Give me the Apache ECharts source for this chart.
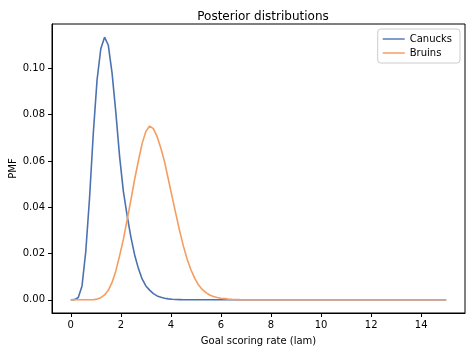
<!DOCTYPE html>
<html><head><meta charset="utf-8">
<script src="https://cdn.jsdelivr.net/npm/echarts@6/dist/echarts.min.js"></script>
<style>html,body{margin:0;padding:0;background:#fff}#c{width:472px;height:352px}</style>
</head><body><div id="c"></div>
<script>
const lam = [0,0.15,0.3,0.45,0.6,0.75,0.9,1.05,1.2,1.35,1.5,1.65,1.8,1.95,2.1,2.25,2.4,2.55,2.7,2.85,3,3.15,3.3,3.45,3.6,3.75,3.9,4.05,4.2,4.35,4.5,4.65,4.8,4.95,5.1,5.25,5.4,5.55,5.7,5.85,6,6.15,6.3,6.45,6.6,6.75,6.9,7.05,7.2,7.35,7.5,7.65,7.8,7.95,8.1,8.25,8.4,8.55,8.7,8.85,9,9.15,9.3,9.45,9.6,9.75,9.9,10.05,10.2,10.35,10.5,10.65,10.8,10.95,11.1,11.25,11.4,11.55,11.7,11.85,12,12.15,12.3,12.45,12.6,12.75,12.9,13.05,13.2,13.35,13.5,13.65,13.8,13.95,14.1,14.25,14.4,14.55,14.7,14.85,15];
const canucks = [0,0.0001,0.001,0.006,0.021,0.044,0.072,0.095,0.1085,0.1135,
  0.110,0.098,0.081,0.062,0.047,0.0365,0.0272,0.0195,0.0136,0.009,
  0.006,0.0042,0.0027,0.0017,0.0011,0.0007,0.0004,0.00025,0.00015,0.0001,
  0.00005,0,0,0,0,0,0,0,0,0,
  0,0,0,0,0,0,0,0,0,0,
  0,0,0,0,0,0,0,0,0,0,
  0,0,0,0,0,0,0,0,0,0,
  0,0,0,0,0,0,0,0,0,0,
  0,0,0,0,0,0,0,0,0,0,
  0,0,0,0,0,0,0,0,0,0,
  0];
const bruins = [0,0,0,0,0,0,0,0.0003,0.0009,0.0021,
  0.0041,0.0075,0.0125,0.019,0.026,0.0345,0.043,0.052,0.060,0.0675,
  0.0728,0.0751,0.074,0.0705,0.0655,0.0595,0.052,0.0445,0.037,0.0298,
  0.0232,0.0175,0.013,0.0094,0.0065,0.0045,0.0031,0.0021,0.0014,0.001,
  0.0007,0.0005,0.0003,0.0002,0.00013,0.00008,0.00005,0.00003,0.00002,0.00001,
  0,0,0,0,0,0,0,0,0,0,
  0,0,0,0,0,0,0,0,0,0,
  0,0,0,0,0,0,0,0,0,0,
  0,0,0,0,0,0,0,0,0,0,
  0,0,0,0,0,0,0,0,0,0,
  0];
const xTicks = [0,2,4,6,8,10,12,14];
const yTicks = [0,0.02,0.04,0.06,0.08,0.10];
const seriesNames = ['Canucks','Bruins'];

const font = 'DejaVu Sans';
const chart = echarts.init(document.getElementById('c'), null, {renderer:'canvas'});
chart.setOption({
  animation:false,
  backgroundColor:'#fff',
  title:{text:'Posterior distributions', left:258, top:6, textAlign:'center',
    textStyle:{fontFamily:font, fontSize:12, fontWeight:'normal', color:'#000'}},
  legend:{data:seriesNames, orient:'vertical', right:12, top:29, icon:'rect', itemWidth:22, itemHeight:2,
    itemGap:4, padding:[5,8,5,5], backgroundColor:'rgba(255,255,255,0.8)', borderColor:'#ccc', borderWidth:1, borderRadius:3,
    textStyle:{fontFamily:font, fontSize:10, color:'#000'}},
  grid:{left:52, right:7, top:24, bottom:39, show:true, borderColor:'#000', borderWidth:1, containLabel:false, outerBoundsMode:'none'},
  xAxis:{type:'value', min:-0.75, max:15.75,
    name:'Goal scoring rate (lam)', nameLocation:'middle', nameGap:23, nameMoveOverlap:false,
    nameTextStyle:{fontFamily:font, fontSize:10, color:'#000'},
    axisLine:{show:true, onZero:false, lineStyle:{color:'#000'}},
    axisTick:{show:true, inside:false, length:4, lineStyle:{color:'#000'}, customValues:xTicks},
    axisLabel:{fontFamily:font, fontSize:10, color:'#000', margin:7, customValues:xTicks, formatter:v=>String(v)},
    splitLine:{show:false}},
  yAxis:{type:'value', min:-0.0057, max:0.1192,
    name:'PMF', nameLocation:'middle', nameRotate:90, nameGap:34, nameMoveOverlap:false,
    nameTextStyle:{fontFamily:font, fontSize:10, color:'#000'},
    axisLine:{show:true, onZero:false, lineStyle:{color:'#000'}},
    axisTick:{show:true, inside:false, length:4, lineStyle:{color:'#000'}, customValues:yTicks},
    axisLabel:{fontFamily:font, fontSize:10, color:'#000', margin:7, customValues:yTicks, formatter:v=>v.toFixed(2)},
    splitLine:{show:false}},
  series:[
    {name:seriesNames[0], type:'line', data:lam.map((x,i)=>[x,canucks[i]]), showSymbol:false, symbol:'none',
      lineStyle:{width:1.6, color:'#4c72b0'}, itemStyle:{color:'#7f9ccb'}},
    {name:seriesNames[1], type:'line', data:lam.map((x,i)=>[x,bruins[i]]), showSymbol:false, symbol:'none',
      lineStyle:{width:1.6, color:'#f59c5e'}, itemStyle:{color:'#f8b68a'}}
  ]
});
</script></body></html>
